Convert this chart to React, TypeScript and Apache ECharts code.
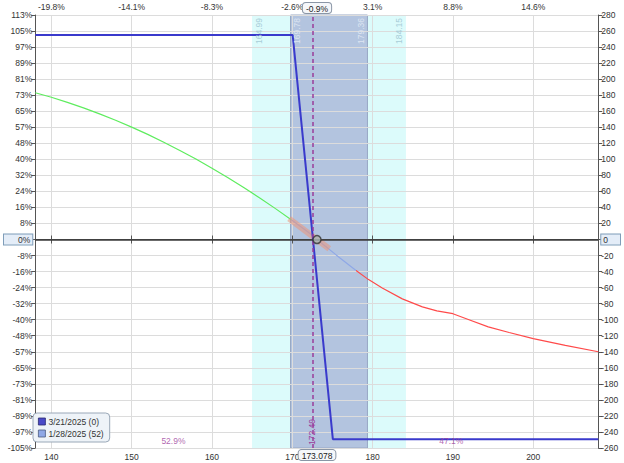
import React, { useEffect, useRef } from 'react';
import * as echarts from 'echarts';

const FONT = '"Liberation Sans", Arial, sans-serif';

// axes
const xMin = 138;
const xMax = 208.1;
const yMin = -260;
const yMax = 280;
const yStep = 20;
const topTickValues = [140, 150, 160, 170, 180, 190, 200];
const topTickLabels = ['-19.8%', '-14.1%', '-8.3%', '-2.6%', '3.1%', '8.8%', '14.6%'];
const leftPctLabels = ['113%', '105%', '97%', '89%', '81%', '73%', '65%', '57%', '48%', '40%', '32%', '24%', '16%', '8%', '0%',
  '-8%', '-16%', '-24%', '-32%', '-40%', '-48%', '-57%', '-65%', '-73%', '-81%', '-89%', '-97%', '-105%'];

// expiration P/L (3/21/2025)
const expiryName = '3/21/2025 (0)';
const expiryX = [138, 170.05, 175.05, 208.1];
const expiryY = [255, 255, -249, -249];

// T+0 P/L (1/28/2025)
const tPlusName = '1/28/2025 (52)';
const tPlusX = [138, 140, 142, 144, 146, 148, 150, 152, 154, 156, 158, 160, 162, 164, 166, 168, 170, 172, 173.078,
  175.5, 177.9, 179.5, 181.2, 183.7, 186.2, 188, 190, 192, 194.4, 197, 200, 204, 208.1];
const tPlusY = [183, 177.4, 171.1, 164.2, 156.7, 148.7, 140.2, 131.1, 121.4, 111.1, 100.3, 89, 77.1, 64.5, 51.6, 37.9, 23.8, 9.1, 0,
  -19.5, -38.4, -50, -60.5, -74, -84, -89, -92.5, -100, -109, -116, -123.5, -132, -140];
const colorBreaks = [169.9, 177.9];

// delta tangent
const deltaX = [169.6, 174.6];
const deltaY = [26, -11.5];

// bands and markers
const outerBand = [164.99, 184.15];
const innerBand = [169.78, 179.36];
const breakEven = 172.49;
const spotPrice = 173.078;
const spotPctLabel = '-0.9%';
const probLabels = ['52.9%', '47.1%'];
const probX = [155.2, 189.8];
const probY = [-251, -251];

const pair = (xs: number[], ys: number[]) => xs.map((x, i) => [x, ys[i]]);

const axisColor = '#555';
const gridColor = '#dcdcdc';
const purple = '#9b3d9b';
const hidden = { color: 'rgba(0,0,0,0)', width: 1 };

const boxLabel = {
  backgroundColor: '#f5f7fa',
  borderColor: '#8a96a6',
  borderWidth: 1,
  borderRadius: 3,
  padding: [1, 3, 0, 3],
  color: '#222',
  fontSize: 8.5,
  fontFamily: FONT,
};

const edgeLabel = (v: number, pos: string, color: string) => ({
  xAxis: v,
  lineStyle: hidden,
  label: {
    show: true,
    position: pos,
    formatter: v.toFixed(2),
    color,
    fontSize: 8.5,
    fontFamily: FONT,
    distance: [3, 2],
  },
});

const option: any = {
  animation: false,
  textStyle: { fontFamily: FONT },
  grid: { left: 31, right: 23, top: 15, bottom: 15 },
  legend: {
    orient: 'vertical',
    left: 33,
    top: 413,
    padding: [4, 6, 4, 5],
    itemGap: 3,
    itemWidth: 7,
    itemHeight: 7,
    icon: 'rect',
    backgroundColor: '#eef3f8',
    borderColor: '#9aa8b8',
    borderWidth: 1,
    borderRadius: 4,
    textStyle: { fontSize: 8.5, color: '#333', fontFamily: FONT, padding: [0, 0, 0, -2] },
    data: [
      { name: expiryName, itemStyle: { color: '#4a4ac8', borderColor: '#2a2a70', borderWidth: 0.8 } },
      { name: tPlusName, itemStyle: { color: '#8fa8e6', borderColor: '#4a5a80', borderWidth: 0.8 } },
    ],
  },
  visualMap: {
    type: 'piecewise',
    show: false,
    dimension: 0,
    seriesIndex: 2,
    pieces: [
      { lt: colorBreaks[0], color: '#5eec5e' },
      { gte: colorBreaks[0], lt: colorBreaks[1], color: '#8fa8e6' },
      { gte: colorBreaks[1], color: '#ff4a4a' },
    ],
  },
  xAxis: [
    {
      type: 'value',
      min: xMin,
      max: xMax,
      position: 'bottom',
      z: 2,
      axisLine: { show: true, lineStyle: { color: axisColor } },
      axisTick: { show: true, length: 4, lineStyle: { color: axisColor } },
      axisLabel: { fontSize: 8.5, color: '#333', margin: 4, showMinLabel: false, showMaxLabel: false, fontFamily: FONT },
      splitLine: { show: true, lineStyle: { color: gridColor } },
    },
    {
      type: 'value',
      min: xMin,
      max: xMax,
      position: 'top',
      z: 2,
      axisLine: { show: true, lineStyle: { color: axisColor } },
      axisTick: { show: true, length: 4, lineStyle: { color: axisColor } },
      axisLabel: {
        fontSize: 8.5,
        color: '#333',
        margin: 4,
        fontFamily: FONT,
        showMinLabel: false,
        showMaxLabel: false,
        formatter: (v: number) => {
          const i = topTickValues.indexOf(Math.round(v));
          return i >= 0 ? topTickLabels[i] : '';
        },
      },
      splitLine: { show: false },
    },
  ],
  yAxis: [
    {
      type: 'value',
      min: yMin,
      max: yMax,
      interval: yStep,
      position: 'left',
      z: 2,
      axisLine: { show: true, lineStyle: { color: axisColor } },
      axisTick: { show: true, length: 4, lineStyle: { color: axisColor } },
      axisLabel: {
        fontSize: 8.5,
        color: '#333',
        margin: 3,
        fontFamily: FONT,
        formatter: (v: number) => {
          const i = Math.round((yMax - v) / yStep);
          const t = leftPctLabels[i] ?? '';
          return v === 0 ? '{z|' + t + '}' : t;
        },
        rich: {
          z: { backgroundColor: '#e4edf8', borderColor: '#7f9db9', borderWidth: 1, padding: [1, 2, 0, 14], fontSize: 8.5, color: '#333' },
        },
      },
      splitLine: { show: true, lineStyle: { color: gridColor } },
    },
    {
      type: 'value',
      min: yMin,
      max: yMax,
      interval: yStep,
      position: 'right',
      z: 2,
      axisLine: { show: true, lineStyle: { color: axisColor } },
      axisTick: { show: true, length: 4, lineStyle: { color: axisColor } },
      axisLabel: {
        fontSize: 8.5,
        color: '#333',
        margin: 3,
        fontFamily: FONT,
        formatter: (v: number) => (v === 0 ? '{z|0}' : String(v)),
        rich: {
          z: { backgroundColor: '#e4edf8', borderColor: '#7f9db9', borderWidth: 1, padding: [1, 12, 0, 2], fontSize: 8.5, color: '#333' },
        },
      },
      splitLine: { show: false },
    },
  ],
  series: [
    {
      type: 'line',
      data: [[spotPrice, 0]],
      showSymbol: false,
      lineStyle: { opacity: 0 },
      silent: true,
      z: 1,
      markArea: {
        silent: true,
        z: 1,
        data: [
          [{ xAxis: outerBand[0], itemStyle: { color: '#dcfbfb' } }, { xAxis: outerBand[1] }],
          [{ xAxis: innerBand[0], itemStyle: { color: '#b3c4df', borderColor: '#98a8c4', borderWidth: 1 } }, { xAxis: innerBand[1] }],
        ],
      },
      markLine: {
        silent: true,
        symbol: ['none', 'none'],
        data: [
          edgeLabel(outerBand[0], 'insideEndBottom', '#a8cdd8'),
          edgeLabel(innerBand[0], 'insideEndBottom', '#dde4f2'),
          edgeLabel(innerBand[1], 'insideEndTop', '#dde4f2'),
          edgeLabel(outerBand[1], 'insideEndTop', '#a8cdd8'),
        ],
      },
    },
    {
      name: expiryName,
      type: 'line',
      data: pair(expiryX, expiryY),
      showSymbol: false,
      color: '#3a3acc',
      lineStyle: { color: '#3a3acc', width: 2 },
      z: 4,
    },
    {
      name: tPlusName,
      type: 'line',
      data: pair(tPlusX, tPlusY),
      showSymbol: false,
      color: '#8fa8e6',
      lineStyle: { width: 1.2 },
      z: 3,
    },
    {
      type: 'line',
      data: pair(deltaX, deltaY),
      showSymbol: false,
      lineStyle: { color: 'rgba(236,150,120,0.55)', width: 6 },
      z: 3,
      silent: true,
    },
    {
      type: 'line',
      data: [[spotPrice, 0]],
      showSymbol: false,
      lineStyle: { opacity: 0 },
      silent: true,
      markLine: {
        silent: true,
        symbol: ['none', 'none'],
        data: [
          { yAxis: 0, lineStyle: { color: '#3a3a3a', width: 1.5, type: 'solid' }, label: { show: false } },
          {
            xAxis: breakEven,
            lineStyle: { color: purple, width: 1.5, type: [4, 3] },
            label: { show: true, position: 'insideStart', formatter: breakEven.toFixed(2), color: purple, fontSize: 8.5, fontFamily: FONT, distance: 3 },
          },
          { xAxis: spotPrice, lineStyle: hidden, label: { show: true, position: 'start', formatter: String(spotPrice), distance: 2, ...boxLabel } },
          { xAxis: spotPrice, lineStyle: hidden, label: { show: true, position: 'end', formatter: spotPctLabel, distance: 2, ...boxLabel } },
        ],
      },
    },
    {
      type: 'scatter',
      data: [[spotPrice, 0]],
      symbol: 'circle',
      symbolSize: 8,
      itemStyle: { color: '#a9b6b6', borderColor: '#333', borderWidth: 1.5 },
      z: 6,
      silent: true,
    },
    {
      type: 'scatter',
      data: probX.map((x, i) => [x, probY[i], probLabels[i]]),
      symbolSize: 0,
      silent: true,
      z: 6,
      label: {
        show: true,
        position: 'inside',
        formatter: (p: any) => p.value[2],
        color: purple,
        fontSize: 8.5,
        fontFamily: FONT,
      },
    },
  ],
};

export default function App() {
  const ref = useRef<HTMLDivElement>(null);
  useEffect(() => {
    const chart = echarts.init(ref.current!, null, { renderer: 'svg' });
    chart.setOption(option);
    return () => chart.dispose();
  }, []);
  return <div ref={ref} style={{ position: 'fixed', left: 0, top: 0, width: 624, height: 463, background: '#fff' }} />;
}
